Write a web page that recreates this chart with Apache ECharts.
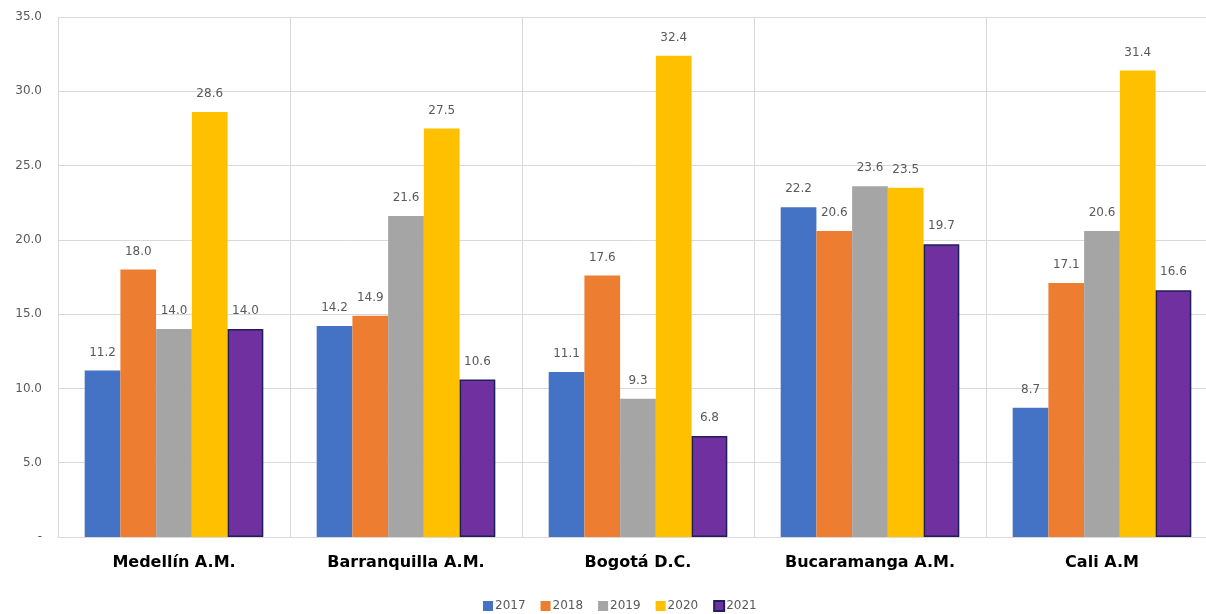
<!DOCTYPE html>
<html><head><meta charset="utf-8">
<script src="https://cdn.jsdelivr.net/npm/echarts@6/dist/echarts.min.js"></script>
<style>html,body{margin:0;padding:0;background:#fff}#c{width:1206px;height:614px}</style>
</head><body><div id="c"></div>
<script>
const categories = ['Medellín A.M.', 'Barranquilla A.M.', 'Bogotá D.C.', 'Bucaramanga A.M.', 'Cali A.M'];
const years = ['2017', '2018', '2019', '2020', '2021'];
const v2017 = [11.2, 14.2, 11.1, 22.2, 8.7];
const v2018 = [18.0, 14.9, 17.6, 20.6, 17.1];
const v2019 = [14.0, 21.6, 9.3, 23.6, 20.6];
const v2020 = [28.6, 27.5, 32.4, 23.5, 31.4];
const v2021 = [14.0, 10.6, 6.8, 19.7, 16.6];
const values = [v2017, v2018, v2019, v2020, v2021];
const colors = ['#4472C4', '#ED7D31', '#A5A5A5', '#FFC000', '#7030A0'];

const chart = echarts.init(document.getElementById('c'));
chart.setOption({
  animation: false,
  textStyle: { fontFamily: 'DejaVu Sans' },
  grid: { left: 58, width: 1160, top: 17, bottom: 77, containLabel: false, outerBoundsMode: 'none' },
  legend: {
    bottom: -3, left: 478, itemWidth: 10, itemHeight: 10, itemGap: 15,
    icon: 'rect',
    textStyle: { color: '#595959', fontSize: 12, padding: [0, 0, 0, -3] },
    data: years
  },
  xAxis: {
    type: 'category', data: categories,
    axisLine: { lineStyle: { color: '#d9d9d9' } },
    axisTick: { show: false },
    splitLine: { show: true, lineStyle: { color: '#d9d9d9' } },
    axisLabel: { color: '#000', fontWeight: 'bold', fontSize: 16, margin: 18 }
  },
  yAxis: {
    type: 'value', min: 0, max: 35, interval: 5,
    axisLine: { show: false }, axisTick: { show: false },
    splitLine: { lineStyle: { color: '#d9d9d9' } },
    axisLabel: { color: '#595959', fontSize: 12, margin: 16,
      formatter: v => v === 0 ? '-' : v.toFixed(1) }
  },
  series: years.map((y, i) => ({
    name: y, type: 'bar', data: values[i],
    barGap: '0%', barCategoryGap: '23%',
    itemStyle: i === 4 ? { color: colors[i], borderColor: '#1f1f5c', borderWidth: 1.5 } : { color: colors[i] },
    label: { show: true, position: 'top', distance: 12, color: '#595959', fontSize: 12,
      formatter: p => p.value.toFixed(1) }
  }))
});
</script></body></html>
